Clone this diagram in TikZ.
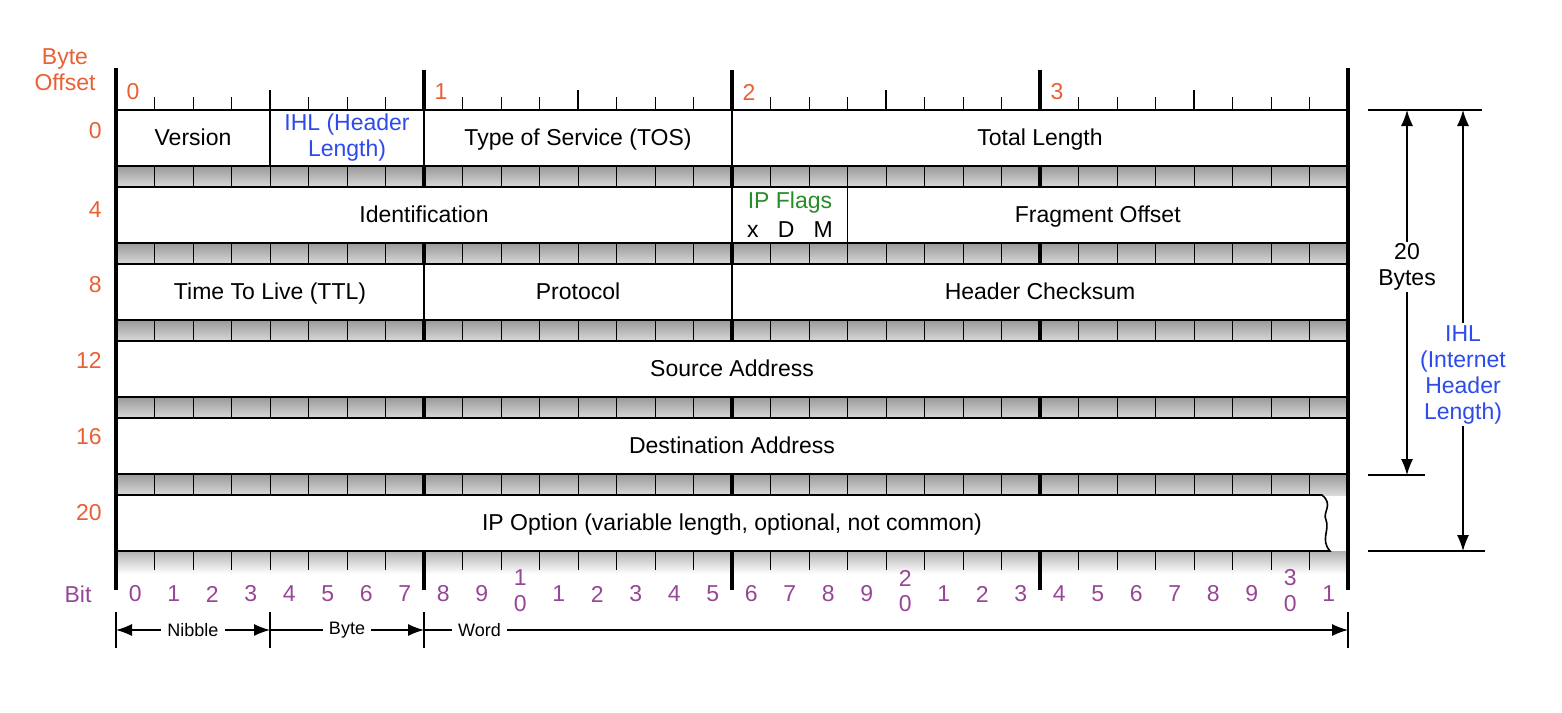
\documentclass[tikz,border=0pt]{standalone}
\usepackage{fontspec}
\setmainfont{Liberation Sans}
\usepackage{tikz}
\usetikzlibrary{arrows.meta,positioning}
\definecolor{offorange}{RGB}{232,96,52}
\definecolor{bitpurple}{RGB}{150,70,150}
\definecolor{ihlblue}{RGB}{45,75,235}
\definecolor{flaggreen}{RGB}{40,140,40}

\begin{document}
\begin{tikzpicture}[x=0.5pt, y=-0.5pt, >={Latex[length=8pt,width=6pt]},
    every node/.style={font=\fontsize{11.5}{13}\selectfont, inner sep=1pt},
    fieldbox/.style={draw, line width=0.8pt, fill=white},
    fieldtext/.style={text height=1.6ex, text depth=0.3ex},
    band/.style={top color=gray!80, bottom color=gray!30, draw=none},
    bytebar/.style={line width=1.6pt},
    offs/.style={text=offorange, anchor=east},
    bitno/.style={text=bitpurple},
    dimarr/.style={line width=0.6pt}]
    \useasboundingbox (0,0) rectangle (1562,712);
    % bit ruler across the top
    \foreach \i in {1,...,31} {
        \draw[line width=0.5pt] ({116+38.5*\i},97) -- ({116+38.5*\i},110);
    }
    \foreach \i in {4,12,20,28} {
        \draw[line width=1pt] ({116+38.5*\i},90) -- ({116+38.5*\i},110);
    }
    \foreach \b in {0,...,3} {
        \node[text=offorange] (top\b) at ({133+308*\b},92) {\b};
    }
    \foreach \i in {8,16,24} {
        \draw[bytebar] ({116+38.5*\i},70) -- ({116+38.5*\i},110);
    }
    % grey bands between the rows
    \foreach \y in {166,243,320,397,474} {
        \fill[band] (116,\y) rectangle (1348,\y+21);
        \foreach \i in {1,...,31} {
            \draw[line width=0.5pt] ({116+38.5*\i},\y) -- ({116+38.5*\i},\y+21);
        }
        \foreach \i in {8,16,24} {
            \draw[bytebar] ({116+38.5*\i},\y) -- ({116+38.5*\i},\y+21);
        }
    }
    % fading band under the options row
    \fill[top color=gray!60, bottom color=white, draw=none] (116,551) rectangle (1348,574);
    \foreach \i in {1,...,31} {
        \draw[line width=0.5pt] ({116+38.5*\i},551) -- ({116+38.5*\i},570);
    }
    \foreach \i in {8,16,24} {
        \draw[bytebar] ({116+38.5*\i},551) -- ({116+38.5*\i},590);
    }
    % header fields: first bit, last bit, row top, name, text
    \foreach \a/\b/\t/\n/\txt in {0/4/110/ver/Version, 8/16/110/tos/Type of Service (TOS),
        16/32/110/tlen/Total Length, 0/16/187/ident/Identification,
        19/32/187/frag/Fragment Offset, 0/8/264/ttl/Time To Live (TTL),
        8/16/264/proto/Protocol, 16/32/264/csum/Header Checksum,
        0/32/341/src/Source Address, 0/32/418/dst/Destination Address} {
        \draw[fieldbox] ({116+38.5*\a},\t) rectangle ({116+38.5*\b},\t+56);
        \node[fieldtext] (\n) at ({116+38.5*(\a+\b)/2},\t+29) {\txt};
    }
    \draw[fieldbox] (270,110) rectangle (424,166);
    \node[text=ihlblue, align=center] (ihl) at (347,138) {IHL (Header\\Length)};
    \draw[fieldbox] (732,187) rectangle (847.5,243);
    \node[text=flaggreen] (flags) at (790,203) {IP Flags};
    \node (xdm) at (790,230) {x\ \ \ D\ \ \ M};
    % options row with a torn right edge
    \draw[fieldbox] (116,495) -- (1322,495) .. controls (1334,505) and (1322,512) .. (1326,520)
        .. controls (1330,530) and (1320,540) .. (1330,551) -- (116,551) -- cycle;
    \node[fieldtext] (opt) at (732,524) {IP Option (variable length, optional, not common)};
    % outer frame bars
    \draw[bytebar, line width=2.2pt] (116,68) -- (116,590);
    \draw[bytebar, line width=2.2pt] (1348,68) -- (1348,590);
    % byte offsets
    \node[text=offorange, align=center] (boff) at (65,70) {Byte\\Offset};
    \foreach \o/\y in {0/131,4/210,8/285,12/360,16/437,20/513} {
        \node[offs] (off\o) at (104,\y) {\o};
    }
    % bit numbers
    \node[bitno] (bit) at (78,594) {Bit};
    \foreach \i in {0,...,31} {
        \pgfmathtruncatemacro{\u}{mod(\i,10)}
        \pgfmathtruncatemacro{\d}{\i/10}
        \ifnum\u=0 \ifnum\i>0
            \node[bitno] (bt\i) at ({116+38.5*(\i+0.5)},578) {\d};
            \node[bitno] (bn\i) at ({116+38.5*(\i+0.5)},604) {0};
        \else
            \node[bitno] (bn\i) at ({116+38.5*(\i+0.5)},594) {0};
        \fi\else
            \node[bitno] (bn\i) at ({116+38.5*(\i+0.5)},594) {\u};
        \fi
    }
    % nibble, byte and word spans
    \foreach \x/\n in {116/d0,270/d1,424/d2,1348/d3} {
        \coordinate (\n) at (\x,630);
        \draw[line width=0.6pt] (\x,612) -- (\x,648);
    }
    \draw[dimarr, <->] (d0) -- node[fill=white, inner sep=3pt] (nib) {\small Nibble} (d1);
    \draw[dimarr, ->] (d1) -- node[fill=white, inner sep=3pt] (byt) {\small Byte} (d2);
    \draw[dimarr, ->] (d2) -- node[pos=0.06, fill=white, inner sep=3pt] (wrd) {\small Word} (d3);
    % header length arrows on the right
    \draw[line width=0.6pt] (1368,110) -- (1482,110);
    \draw[line width=0.6pt] (1368,475) -- (1425,475);
    \draw[line width=0.6pt] (1368,551) -- (1485,551);
    \coordinate (h20a) at (1407,110); \coordinate (h20b) at (1407,475);
    \coordinate (hia) at (1463,110); \coordinate (hib) at (1463,551);
    \draw[dimarr, <->] (h20a) -- node[pos=0.43, fill=white, align=center] (twenty) {20\\Bytes} (h20b);
    \draw[dimarr, <->] (hia) -- node[pos=0.6, fill=white, text=ihlblue, align=center] (ihlr) {IHL\\(Internet\\Header\\Length)} (hib);
\end{tikzpicture}
\end{document}
